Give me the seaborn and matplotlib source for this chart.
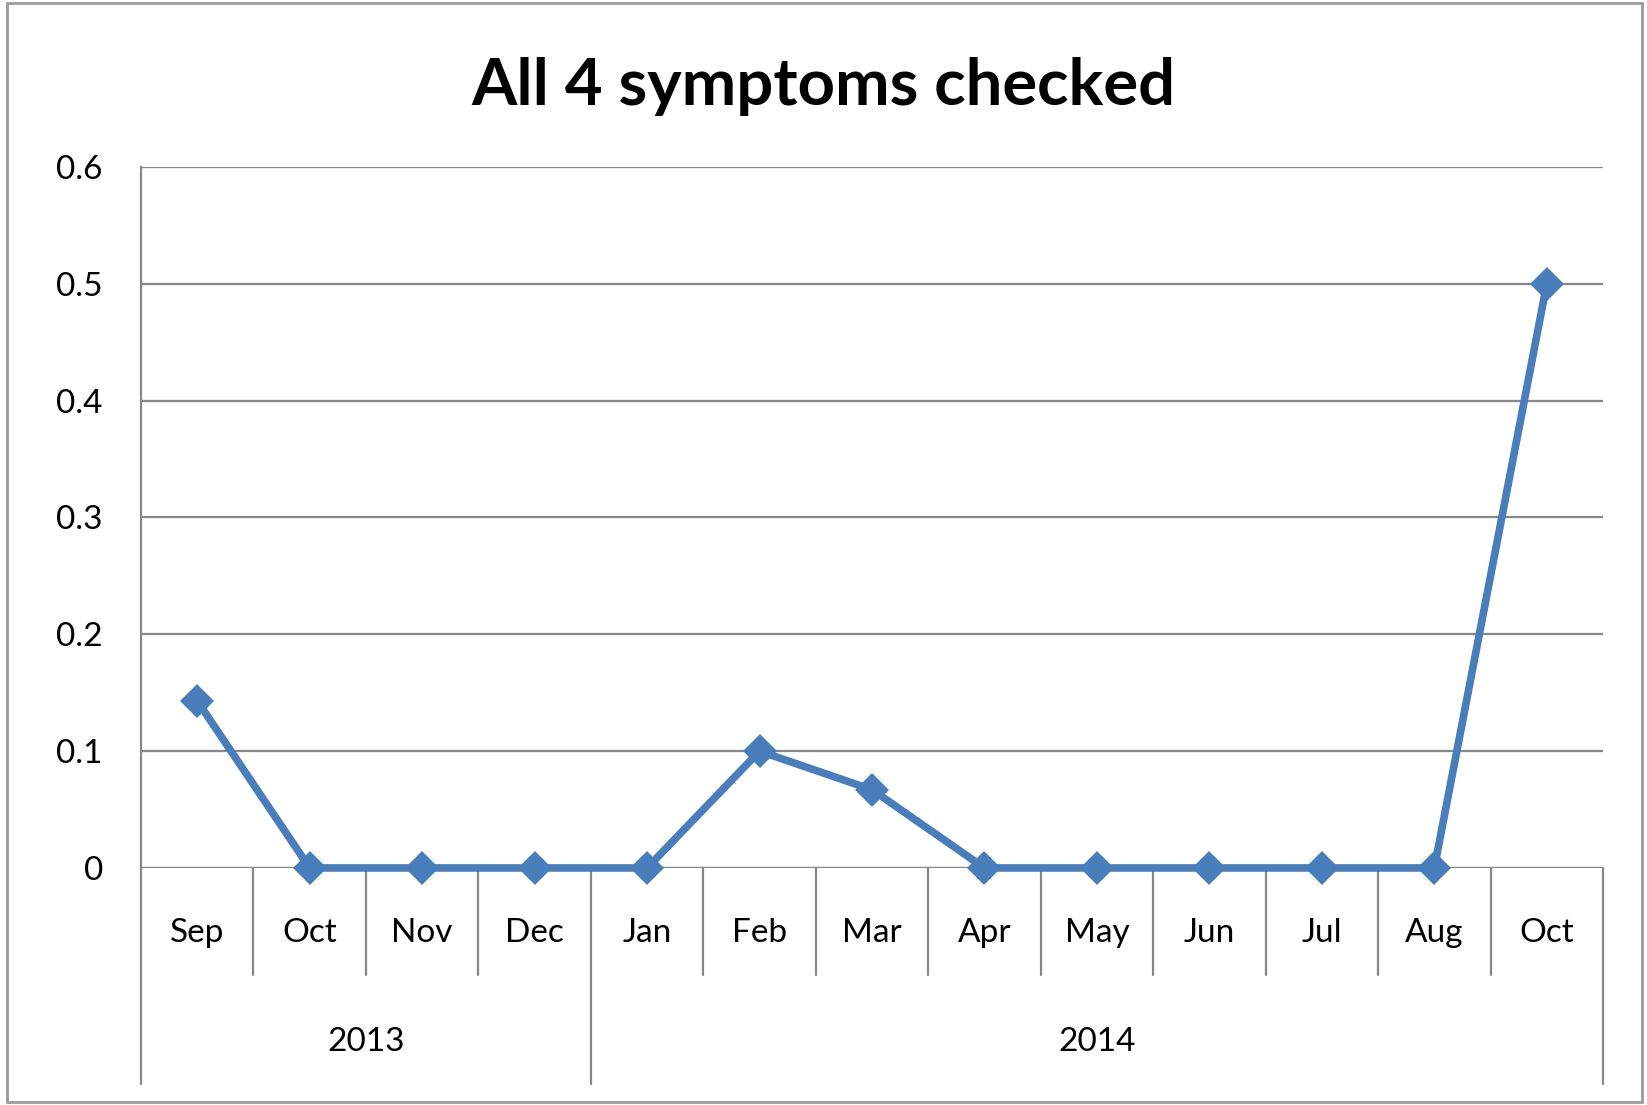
import matplotlib

matplotlib.use("Agg")

import matplotlib.pyplot as plt
import pandas as pd
import seaborn as sns
from matplotlib.patches import Rectangle
from matplotlib.ticker import FuncFormatter

# data
months = ["Sep", "Oct", "Nov", "Dec", "Jan", "Feb", "Mar", "Apr", "May", "Jun", "Jul", "Aug", "Oct"]
years = ["2013", "2013", "2013", "2013", "2014", "2014", "2014", "2014", "2014", "2014", "2014", "2014", "2014"]
share = [0.143, 0, 0, 0, 0, 0.1, 0.067, 0, 0, 0, 0, 0, 0.5]
y_ticks = [0, 0.1, 0.2, 0.3, 0.4, 0.5, 0.6]

title = "All 4 symptoms checked"
line_color = "#4a7ebb"
grey = "#878787"

sns.set_style("white")
plt.rcParams["font.family"] = ["Lato", "DejaVu Sans"]
plt.rcParams["text.color"] = "black"
plt.rcParams["ytick.labelcolor"] = "black"

df = pd.DataFrame({"pos": range(len(months)), "month": months, "year": years, "share": share})

fig = plt.figure(figsize=(16.47, 11.05), dpi=100)
ax = fig.add_axes([0.0856, 0.2145, 0.8877, 0.6344])

sns.lineplot(data=df, x="pos", y="share", ax=ax, color=line_color, linewidth=5.5,
             marker="D", markersize=17, markeredgewidth=0, legend=False,
             clip_on=False, zorder=5)

ax.set_xlim(-0.5, len(months) - 0.5)
ax.set_ylim(0, 0.6)
ax.set_yticks(y_ticks)
ax.yaxis.set_major_formatter(FuncFormatter(lambda v, _: f"{v:g}"))
ax.grid(axis="y", color=grey, linewidth=1.6)
ax.set_axisbelow(True)
ax.tick_params(axis="y", length=9.5, width=1.6, color=grey, pad=18, labelsize=24,
               labelcolor="black")
ax.set_xticks([])
ax.set_xlabel("")
ax.set_ylabel("")

for side in ["top", "right", "bottom"]:
    ax.spines[side].set_visible(False)
ax.spines["left"].set_color(grey)
ax.spines["left"].set_linewidth(1.6)

ax.axhline(0, color=grey, linewidth=1.6, zorder=1)

xt = ax.get_xaxis_transform()
month_bottom = -0.153
year_bottom = -0.308

# month separators and labels
for i, m in enumerate(months):
    ax.text(i, -0.093, m, transform=xt, ha="center", va="center", fontsize=24)
    if i < len(months) - 1 and years[i] == years[i + 1]:
        ax.plot([i + 0.5, i + 0.5], [0, month_bottom], transform=xt, color=grey,
                linewidth=1.6, clip_on=False)

# year groups
edges = [-0.5]
for i in range(1, len(years)):
    if years[i] != years[i - 1]:
        edges.append(i - 0.5)
edges.append(len(years) - 0.5)
for e in edges:
    ax.plot([e, e], [0, year_bottom], transform=xt, color=grey, linewidth=1.6, clip_on=False)
group_names = list(dict.fromkeys(years))
for k, name in enumerate(group_names):
    ax.text((edges[k] + edges[k + 1]) / 2, -0.248, name, transform=xt, ha="center",
            va="center", fontsize=24)

fig.text(0.5, 0.922, title, ha="center", va="center", fontsize=47, fontweight="bold")

fig.patches.append(Rectangle((0.004, 0.003), 0.993, 0.994, transform=fig.transFigure,
                             fill=False, edgecolor="#9a9a9a", linewidth=2))

fig.savefig("out.png", dpi=100)
